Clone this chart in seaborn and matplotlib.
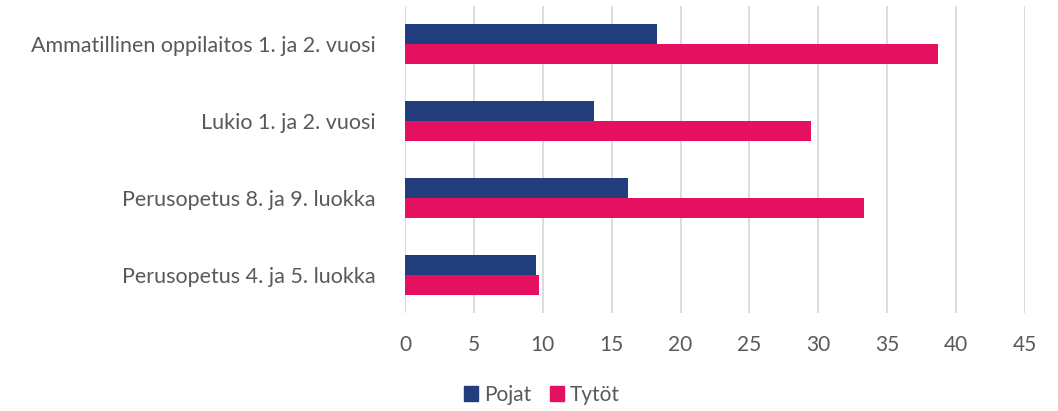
import pandas as pd
import matplotlib.pyplot as plt
import seaborn as sns

# data
categories = ['Ammatillinen oppilaitos 1. ja 2. vuosi', 'Lukio 1. ja 2. vuosi',
              'Perusopetus 8. ja 9. luokka', 'Perusopetus 4. ja 5. luokka']
pojat = [18.3, 13.7, 16.2, 9.5]
tytot = [38.7, 29.5, 33.3, 9.7]
series = ['Pojat', 'Tytöt']
colors = ['#223D7C', '#E51060']

df = pd.DataFrame({
    'luokka': categories * 2,
    'arvo': pojat + tytot,
    'sarja': [series[0]] * len(categories) + [series[1]] * len(categories),
})

sns.set_style('white')
plt.rcParams['font.family'] = ['Lato', 'DejaVu Sans']

fig = plt.figure(figsize=(10.58, 4.11), dpi=100)
ax = fig.add_axes([405 / 1058, 98 / 411, 620 / 1058, 307 / 411])

sns.barplot(data=df, x='arvo', y='luokka', hue='sarja', order=categories,
            hue_order=series, palette=colors, orient='h', width=0.52,
            linewidth=0, saturation=1, ax=ax, legend=False)

ax.set_xlim(0, 45)
ax.set_xticks(range(0, 50, 5))
ax.grid(axis='x', color='#d9d9d9', linewidth=1.3)
ax.set_axisbelow(True)
for s in ax.spines.values():
    s.set_visible(False)
ax.set_xlabel('')
ax.set_ylabel('')
ax.tick_params(axis='x', colors='#595959', labelsize=15, pad=16, length=0)
ax.tick_params(axis='y', colors='#595959', labelsize=15.5, pad=21, length=0)

# legend
handles = [plt.Rectangle((0, 0), 1, 1, color=c) for c in colors]
fig.legend(handles, series, loc='lower center', bbox_to_anchor=(0.512, -0.03),
           ncol=2, frameon=False, fontsize=15, handlelength=0.7, handleheight=0.7,
           handletextpad=0.25, columnspacing=0.9, labelcolor='#595959')

plt.savefig('out.png', dpi=100)
